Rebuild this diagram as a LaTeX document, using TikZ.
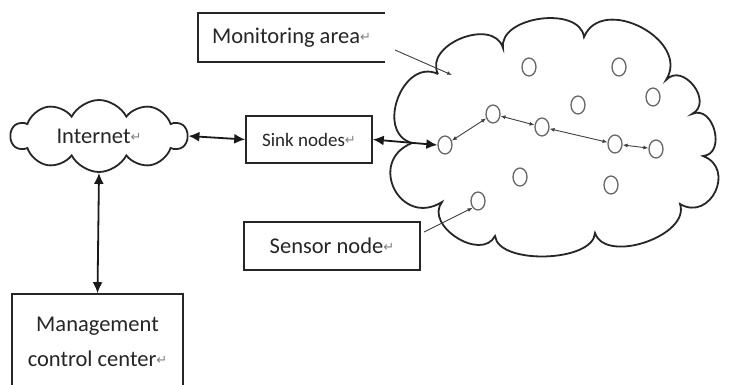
\documentclass[tikz,border=0pt]{standalone}
\usepackage{fontspec}
\setmainfont{Carlito}
\newfontfamily\symf{DejaVu Sans}
\usetikzlibrary{shapes.geometric,shapes.symbols,arrows.meta}
\newcommand\retm{\raisebox{2pt}{\symf\fontsize{13}{13}\selectfont\color{black!50}↵}}
\begin{document}
\begin{tikzpicture}[x=1pt,y=-1pt,
  lbl/.style={font=\fontsize{22.5}{35}\selectfont, text=black!85},
  box/.style={lbl, draw=black!85, line width=1.6pt, inner sep=0pt},
  sn/.style={ellipse, draw=black!60, line width=1.3pt, minimum width=14pt, minimum height=18pt, inner sep=0pt},
  cloudline/.style={draw=black!85, line width=1.8pt},
  bigarr/.style={line width=1.8pt, draw=black!90, {Latex[length=11pt,width=10pt]}-{Latex[length=11pt,width=10pt]}},
  thinarr/.style={line width=0.9pt, draw=black!75, {Latex[length=5pt,width=4pt]}-{Latex[length=5pt,width=4pt]}},
  onearr/.style={line width=0.9pt, draw=black!75, -{Latex[length=5pt,width=4pt]}}]
\useasboundingbox (0,0) rectangle (747,384);
\fill[white] (0,0) rectangle (747,384);

% Internet cloud
\node[cloud, cloudline, cloud puffs=10, cloud puff arc=125, aspect=2.5,
      minimum width=176pt, minimum height=72pt, inner sep=0pt, lbl] (inet) at (99,136) {Internet\retm};

% boxes
\node[box, minimum width=126pt, minimum height=47pt, font=\fontsize{19}{22}\selectfont] (sink) at (309,139.5) {Sink nodes\retm};
\node[lbl, minimum width=187pt, minimum height=49pt, inner sep=0pt] (mon) at (291.5,37.5) {Monitoring area\retm};
\draw[draw=black!85, line width=1.6pt] (mon.north east) -- (mon.north west) -- (mon.south west) -- (mon.south east);
\node[box, minimum width=176pt, minimum height=48pt] (sens) at (332,246) {Sensor node\retm};
\node[box, minimum width=171pt, minimum height=96pt, align=center] (mgmt) at (97.5,342) {Management\\control center\retm};

% big cloud
\draw[cloudline]
  (438,74) to[bend left=95, looseness=1.2] (503,48)
  to[bend left=90, looseness=1.0] (584,37)
  to[bend left=95, looseness=1.3] (666,80)
  to[bend left=100, looseness=1.5] (692,114)
  to[bend left=100, looseness=1.4] (703,156)
  to[bend left=95, looseness=1.7] (680,204)
  to[bend left=90, looseness=0.95] (595,233)
  to[bend left=85, looseness=0.75] (495,236)
  to[bend left=95, looseness=1.2] (442,202)
  to[bend left=95, looseness=1.9] (412,143)
  to[bend left=95, looseness=1.35] (438,74);

% sensor nodes
\node[sn] (c1) at (529,67) {};
\node[sn] (c2) at (619,67) {};
\node[sn] (c3) at (653,97) {};
\node[sn] (c4) at (578,105) {};
\node[sn] (c5) at (493,114) {};
\node[sn] (c6) at (542,127) {};
\node[sn] (c7) at (445,145) {};
\node[sn] (c8) at (615,144) {};
\node[sn] (c9) at (656,149) {};
\node[sn] (c10) at (520,177) {};
\node[sn] (c11) at (611,185) {};
\node[sn] (c12) at (478,201) {};

% connectors
\draw[bigarr] (inet.east) -- (sink.west);
\draw[bigarr] (inet.south) -- (mgmt.north);
\draw[bigarr] (sink.east) -- (c7.west);
\draw[thinarr] (c7) -- (c5);
\draw[thinarr] (c5) -- (c6);
\draw[thinarr] (c6) -- (c8);
\draw[thinarr] (c8) -- (c9);
\coordinate (monend) at (395,50);
\coordinate (montip) at (452,75);
\draw[onearr] (monend) -- (montip);
\coordinate (sensend) at (424,232);
\draw[onearr] (sensend) -- (c12.south west);
\end{tikzpicture}
\end{document}
